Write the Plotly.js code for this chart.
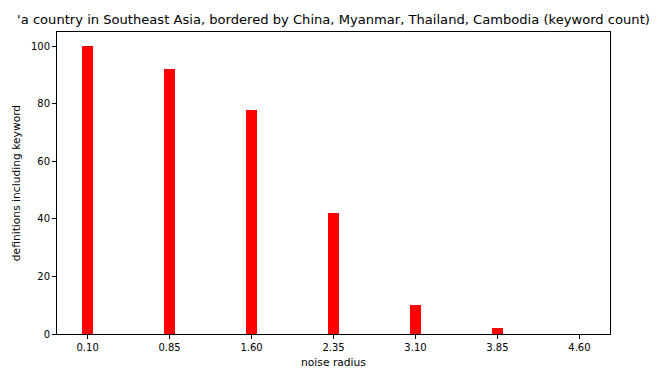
<!DOCTYPE html>
<html><head><meta charset="utf-8">
<script src="https://cdn.plot.ly/plotly-3.0.1.min.js"></script>
<style>body{margin:0;padding:0;background:#fff}#chart{width:656px;height:374px}</style>
</head><body><div id="chart"></div>
<script>
const radii = [0.10, 0.85, 1.60, 2.35, 3.10, 3.85, 4.60];
const tickLabels = ["0.10", "0.85", "1.60", "2.35", "3.10", "3.85", "4.60"];
const counts = [100, 92, 78, 42, 10, 2, 0];
const titleText = "'a country in Southeast Asia, bordered by China, Myanmar, Thailand, Cambodia (keyword count)";

const font = {family: "DejaVu Sans", size: 10, color: "#000"};
const labelFont = {family: "DejaVu Sans", size: 10.7, color: "#000"};
Plotly.newPlot("chart", [{
  type: "bar", x: radii, y: counts, width: 0.1,
  marker: {color: "#ff0000", line: {width: 0}}, hoverinfo: "skip"
}], {
  width: 656, height: 374,
  margin: {l: 57, r: 46, t: 32, b: 40},
  paper_bgcolor: "#fff", plot_bgcolor: "#fff",
  font: font, showlegend: false, bargap: 0,
  title: {text: titleText, x: 0.5, xref: "paper", y: 0.948, yanchor: "middle", font: {family: "DejaVu Sans", size: 13.1, color: "#000"}},
  xaxis: {range: [-0.18, 4.88], tickvals: radii, ticktext: tickLabels, ticks: "outside", ticklen: 4, tickcolor: "#000",
    showgrid: false, zeroline: false, showline: true, linecolor: "#000", linewidth: 1, mirror: true,
    title: {text: "noise radius", font: labelFont, standoff: 6}},
  yaxis: {range: [0, 105], tickvals: [0, 20, 40, 60, 80, 100], ticks: "outside", ticklen: 4, tickcolor: "#000",
    showgrid: false, zeroline: false, showline: true, linecolor: "#000", linewidth: 1, mirror: true,
    title: {text: "definitions including keyword", font: labelFont, standoff: 8}}
}, {staticPlot: true});
</script></body></html>
